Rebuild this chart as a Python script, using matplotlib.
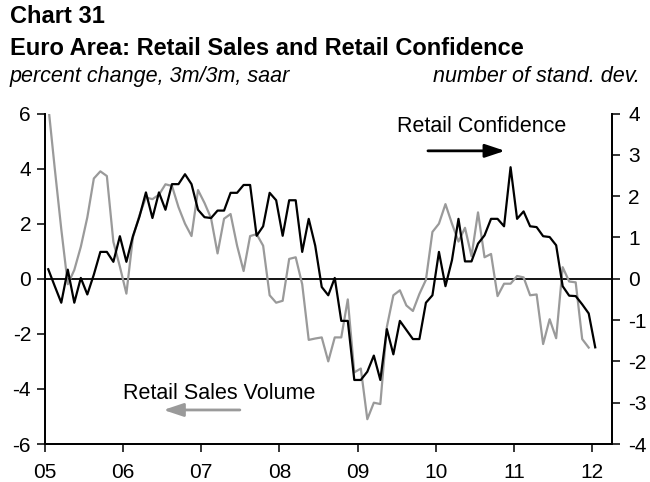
import matplotlib
matplotlib.use("Agg")
import matplotlib.pyplot as plt
import numpy as np

plt.rcParams['font.family'] = ['Liberation Sans', 'DejaVu Sans']

# --- data: monthly, Jan 2005 onwards ---
# Retail sales volume, % 3m/3m saar (left axis)
sales = [6.3, 4.0, 1.8, -0.2, 0.32, 1.16, 2.23, 3.64, 3.9, 3.73, 1.34, 0.44,
         -0.54, 1.5, 2.3, 2.95, 2.89, 3.05, 3.43, 3.37, 2.6, 2.0, 1.55, 3.22,
         2.75, 2.2, 0.92, 2.18, 2.35, 1.2, 0.28, 1.55, 1.62, 1.2, -0.6, -0.87,
         -0.8, 0.72, 0.78, -0.2, -2.22, -2.17, -2.13, -3.0, -2.13, -2.13, -0.75, -3.4,
         -3.26, -5.1, -4.5, -4.55, -1.75, -0.6, -0.42, -0.97, -1.17, -0.55, -0.04, 1.7,
         2.0, 2.71, 2.0, 1.35, 1.85, 0.82, 2.41, 0.78, 0.9, -0.63, -0.18, -0.18,
         0.1, 0.05, -0.6, -0.57, -2.37, -1.47, -2.16, 0.42, -0.1, -0.13, -2.19, -2.5]

# Retail confidence, number of std. dev. (right axis)
confidence = [0.23, -0.18, -0.58, 0.22, -0.58, 0.02, -0.38, 0.1, 0.65, 0.65, 0.41, 1.03,
              0.41, 1.03, 1.5, 2.09, 1.47, 2.09, 1.67, 2.29, 2.29, 2.53, 2.29, 1.67,
              1.49, 1.47, 1.65, 1.65, 2.08, 2.08, 2.27, 2.27, 1.04, 1.27, 2.08, 1.9,
              1.04, 1.9, 1.9, 0.65, 1.45, 0.8, -0.2, -0.4, 0.02, -1.02, -1.02, -2.45,
              -2.45, -2.25, -1.86, -2.45, -1.22, -1.83, -1.02, -1.24, -1.46, -1.46, -0.58, -0.4,
              0.65, -0.18, 0.45, 1.45, 0.42, 0.42, 0.85, 1.05, 1.45, 1.45, 1.27, 2.70,
              1.45, 1.63, 1.27, 1.25, 1.03, 1.01, 0.81, -0.18, -0.41, -0.42, -0.62, -0.84,
              -1.66]

year_labels = ["05", "06", "07", "08", "09", "10", "11", "12"]
left_ticks = [-6, -4, -2, 0, 2, 4, 6]
right_ticks = [-4, -3, -2, -1, 0, 1, 2, 3, 4]

GRAY = "#9a9a9a"
FS = 15

fig = plt.figure(figsize=(6.5, 4.82), dpi=100)
ax = fig.add_axes([45 / 650, 1 - 444 / 482, 566.5 / 650, 330.5 / 482])
ax2 = ax.twinx()

x_sales = np.arange(len(sales))
x_conf = np.arange(len(confidence))

ax.plot(x_sales, sales, color=GRAY, lw=1.6, zorder=3)
ax.axhline(0, color="black", lw=1.3, zorder=2)
ax2.plot(x_conf, confidence, color="black", lw=1.6, zorder=3)

ax.set_xlim(-0.5, 86.5)
ax.set_ylim(-6, 6)
ax2.set_ylim(-4, 4)

ax.set_xticks([-0.5 + 12 * k for k in range(len(year_labels))])
ax.set_xticklabels(year_labels)
ax.set_yticks(left_ticks)
ax.set_yticklabels([str(t) for t in left_ticks])
ax2.set_yticks(right_ticks)
ax2.set_yticklabels([str(t) for t in right_ticks])

for a in (ax, ax2):
    a.spines["top"].set_visible(False)
    for s in ("left", "right", "bottom"):
        a.spines[s].set_linewidth(1.3)
    a.tick_params(direction="out", length=6, width=1.1, labelsize=FS, colors="black")
ax.tick_params(axis="x", pad=8)
ax.tick_params(axis="y", pad=4)
ax2.tick_params(axis="y", pad=6)

# annotations
ax.text(0.770, 0.962, "Retail Confidence", transform=ax.transAxes,
        ha="center", va="center", fontsize=15.5)
ax.annotate("", xy=(0.812, 0.887), xytext=(0.676, 0.887), xycoords="axes fraction",
            arrowprops=dict(arrowstyle="-|>,head_length=0.6,head_width=0.2",
                            color="black", lw=2, mutation_scale=20, shrinkA=0, shrinkB=0))
ax.text(0.307, 0.154, "Retail Sales Volume", transform=ax.transAxes,
        ha="center", va="center", fontsize=15.5)
ax.annotate("", xy=(0.209, 0.103), xytext=(0.344, 0.103), xycoords="axes fraction",
            arrowprops=dict(arrowstyle="-|>,head_length=0.6,head_width=0.2",
                            color=GRAY, lw=2, mutation_scale=20, shrinkA=0, shrinkB=0))

# headings
fig.text(10 / 650, 1 - 23 / 482, "Chart 31", fontsize=17, fontweight="bold")
fig.text(10 / 650, 1 - 55 / 482, "Euro Area: Retail Sales and Retail Confidence",
         fontsize=17, fontweight="bold")
fig.text(10 / 650, 1 - 82 / 482, "percent change, 3m/3m, saar", fontsize=15.5, style="italic")
fig.text(640 / 650, 1 - 82 / 482, "number of stand. dev.", fontsize=15.5, style="italic",
         ha="right")

fig.savefig("out.png", dpi=100)
